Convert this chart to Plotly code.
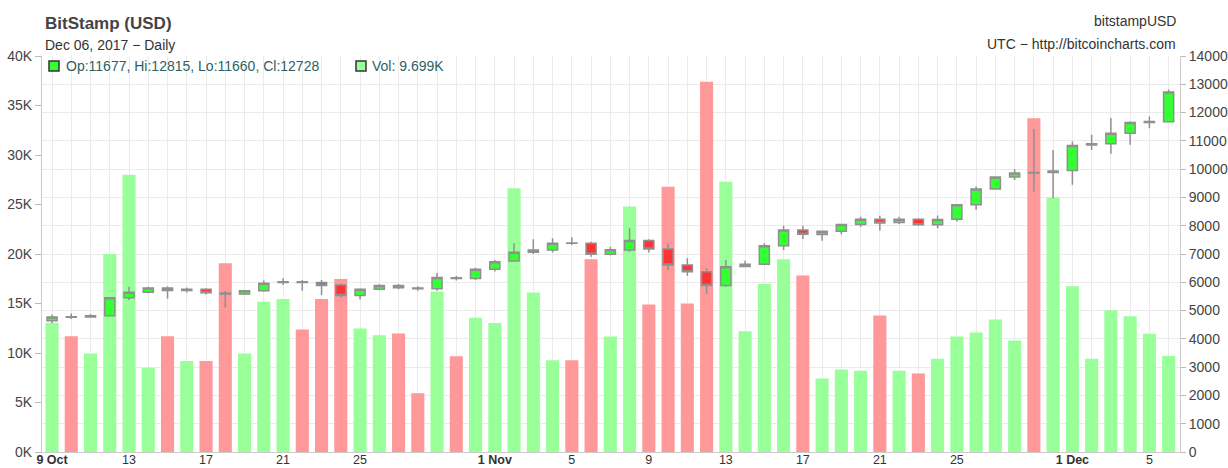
import plotly.graph_objects as go

dates = [
    "2017-10-09", "2017-10-10", "2017-10-11", "2017-10-12", "2017-10-13", "2017-10-14", "2017-10-15",
    "2017-10-16", "2017-10-17", "2017-10-18", "2017-10-19", "2017-10-20", "2017-10-21", "2017-10-22",
    "2017-10-23", "2017-10-24", "2017-10-25", "2017-10-26", "2017-10-27", "2017-10-28", "2017-10-29",
    "2017-10-30", "2017-10-31", "2017-11-01", "2017-11-02", "2017-11-03", "2017-11-04", "2017-11-05",
    "2017-11-06", "2017-11-07", "2017-11-08", "2017-11-09", "2017-11-10", "2017-11-11", "2017-11-12",
    "2017-11-13", "2017-11-14", "2017-11-15", "2017-11-16", "2017-11-17", "2017-11-18", "2017-11-19",
    "2017-11-20", "2017-11-21", "2017-11-22", "2017-11-23", "2017-11-24", "2017-11-25", "2017-11-26",
    "2017-11-27", "2017-11-28", "2017-11-29", "2017-11-30", "2017-12-01", "2017-12-02", "2017-12-03",
    "2017-12-04", "2017-12-05", "2017-12-06",
]

opens = [4640, 4785, 4770, 4815, 5450, 5650, 5800, 5710, 5750, 5620, 5590, 5700, 5990, 6020,
         5990, 5900, 5530, 5750, 5890, 5800, 5770, 6160, 6130, 6460, 6750, 7060, 7140, 7390,
         7380, 6990, 7140, 7480, 7180, 6610, 6370, 5890, 6560, 6640, 7290, 7850, 7690, 7800,
         8040, 8230, 8110, 8230, 8030, 8230, 8740, 9300, 9720, 9880, 9880, 9950, 10850, 10900,
         11270, 11650, 11677]
highs = [4865, 4900, 4876, 5480, 5845, 5840, 5850, 5820, 5785, 5690, 5730, 6060, 6140, 6080,
         6080, 5960, 5785, 5930, 5940, 5860, 6330, 6220, 6510, 6790, 7380, 7520, 7560, 7590,
         7430, 7260, 7910, 7520, 7355, 6850, 6495, 6790, 6765, 7380, 8000, 8000, 7830, 8060,
         8320, 8345, 8320, 8260, 8360, 8760, 9385, 9740, 10000, 11415, 10680, 10980, 11215, 11805,
         11690, 11865, 12815]
lows = [4550, 4700, 4746, 4800, 5375, 5610, 5430, 5640, 5570, 5110, 5550, 5665, 5900, 5700,
        5550, 5465, 5395, 5720, 5750, 5700, 5700, 6060, 6080, 6380, 6730, 7000, 7050, 7320,
        6905, 6950, 7080, 7050, 6435, 6235, 5585, 5845, 6530, 6610, 7140, 7530, 7470, 7700,
        7960, 7830, 8060, 8000, 7910, 8150, 8560, 9290, 9620, 9200, 8970, 9445, 10680, 10540,
        10860, 11450, 11660]
closes = [4770, 4760, 4815, 5450, 5650, 5800, 5710, 5750, 5630, 5590, 5700, 5970, 6020, 5995,
          5890, 5535, 5750, 5890, 5810, 5770, 6170, 6130, 6460, 6730, 7060, 7140, 7380, 7380,
          6990, 7150, 7480, 7180, 6610, 6370, 5890, 6550, 6640, 7290, 7850, 7700, 7800, 8040,
          8230, 8100, 8230, 8030, 8220, 8740, 9300, 9720, 9860, 9860, 9930, 10840, 10900, 11270,
          11650, 11680, 12728]
volumes_k = [13.05, 11.7, 9.95, 20.0, 28.0, 8.5, 11.7, 9.18, 9.18, 19.06, 9.95, 15.18, 15.45, 12.38,
             15.45, 17.47, 12.48, 11.8, 11.98, 5.94, 16.22, 9.68, 13.56, 13.02, 26.65, 16.12, 9.28, 9.28,
             19.46, 11.67, 24.8, 14.9, 26.8, 15.0, 37.4, 27.3, 12.2, 17.0, 19.46, 17.84, 7.42, 8.33,
             8.2, 13.8, 8.2, 7.93, 9.41, 11.67, 12.08, 13.39, 11.27, 33.7, 25.7, 16.73, 9.41, 14.33,
             13.7, 11.94, 9.699]

tick_dates = ["2017-10-09", "2017-10-13", "2017-10-17", "2017-10-21", "2017-10-25", "2017-11-01",
              "2017-11-05", "2017-11-09", "2017-11-13", "2017-11-17", "2017-11-21", "2017-11-25",
              "2017-12-01", "2017-12-05"]
tick_labels = ["<b>9 Oct</b>", "13", "17", "21", "25", "<b>1 Nov</b>", "5", "9", "13", "17", "21", "25",
               "<b>1 Dec</b>", "5"]

UP_BODY, DOWN_BODY = "#33ff33", "#ff3333"
UP_VOL, DOWN_VOL = "#99ff99", "#ff9999"
FONT = "Liberation Sans, Arial, sans-serif"

vol_colors = [UP_VOL if c >= o else DOWN_VOL for o, c in zip(opens, closes)]

fig = go.Figure()
fig.add_trace(go.Bar(
    x=dates, y=volumes_k, marker=dict(color=vol_colors, line=dict(width=0)),
    width=0.68 * 86400000, yaxis="y", hoverinfo="skip",
))
fig.add_trace(go.Candlestick(
    x=dates, open=opens, high=highs, low=lows, close=closes, yaxis="y2",
    increasing=dict(fillcolor=UP_BODY, line=dict(color="#909090", width=1.5)),
    decreasing=dict(fillcolor=DOWN_BODY, line=dict(color="#909090", width=1.5)),
    whiskerwidth=0,
))

grid = "#ebebeb"
fig.update_layout(
    width=1228, height=468,
    margin=dict(l=42, r=48, t=56, b=16, autoexpand=False),
    paper_bgcolor="white", plot_bgcolor="white",
    showlegend=False, boxgap=0.25,
    font=dict(family=FONT, size=14, color="#444"),
    xaxis=dict(
        type="date", range=["2017-10-08 11:30", "2017-12-06 14:10"], automargin=False,
        tickmode="array", tickvals=tick_dates, ticktext=tick_labels,
        showgrid=True, gridcolor=grid, gridwidth=1,
        minor=dict(dtick=86400000, tick0="2017-10-09", showgrid=True, gridcolor=grid, ticklen=0),
        showline=True, linecolor="#cccccc", linewidth=1, ticks="", ticklen=0,
        ticklabelstandoff=-4,
        rangeslider=dict(visible=False), tickfont=dict(size=12.5, color="#333"),
        zeroline=False,
    ),
    yaxis=dict(
        range=[0, 40], dtick=5, ticksuffix="K", showgrid=False, zeroline=False, automargin=False,
        showline=True, linecolor="#cccccc", ticks="outside", ticklen=6, tickcolor="#bbbbbb",
        tickfont=dict(size=14, color="#444"),
    ),
    yaxis2=dict(
        range=[0, 14000], dtick=1000, overlaying="y", side="right", tickformat="d", automargin=False,
        showgrid=True, gridcolor=grid, zeroline=False,
        showline=True, linecolor="#cccccc", ticks="outside", ticklen=5, tickcolor="#bbbbbb",
        tickfont=dict(size=14, color="#444"),
    ),
)

L0, R0, T0, B0 = 42, 1180, 56, 452
W = float(R0 - L0)
H = float(B0 - T0)
def px(x):
    return (x - L0) / W
def py(y):
    return (B0 - y) / H

annotations = [
    dict(text="<b>BitStamp (USD)</b>", x=px(43), y=py(23), xanchor="left", yanchor="middle",
         font=dict(size=17, color="#444")),
    dict(text="Dec 06, 2017 − Daily", x=px(43), y=py(45), xanchor="left", yanchor="middle",
         font=dict(size=14, color="#333")),
    dict(text="bitstampUSD", x=px(1178), y=py(21), xanchor="right", yanchor="middle",
         font=dict(size=14, color="#333")),
    dict(text="UTC − http://bitcoincharts.com", x=px(1178), y=py(44), xanchor="right", yanchor="middle",
         font=dict(size=14, color="#333")),
    dict(text=f"Op:{opens[-1]}, Hi:{highs[-1]}, Lo:{lows[-1]}, Cl:{closes[-1]}", x=px(64), y=py(66),
         xanchor="left", yanchor="middle", font=dict(size=14, color="#2e6262")),
    dict(text=f"Vol: {volumes_k[-1]:.3f}K", x=px(370), y=py(66),
         xanchor="left", yanchor="middle", font=dict(size=14, color="#2e6262")),
]
for a in annotations:
    a.update(xref="paper", yref="paper", showarrow=False)
fig.update_layout(annotations=annotations)

fig.update_layout(shapes=[
    dict(type="rect", xref="paper", yref="paper", x0=px(49), x1=px(59), y0=py(71), y1=py(61),
         fillcolor=UP_BODY, line=dict(color="#333", width=1.5)),
    dict(type="rect", xref="paper", yref="paper", x0=px(356), x1=px(366), y0=py(71), y1=py(61),
         fillcolor=UP_VOL, line=dict(color="#333", width=1.5)),
])

fig.write_html(
    "out.html",
    config={"displayModeBar": False},
    post_script="document.body.style.margin='0';document.body.style.overflow='hidden';",
)
